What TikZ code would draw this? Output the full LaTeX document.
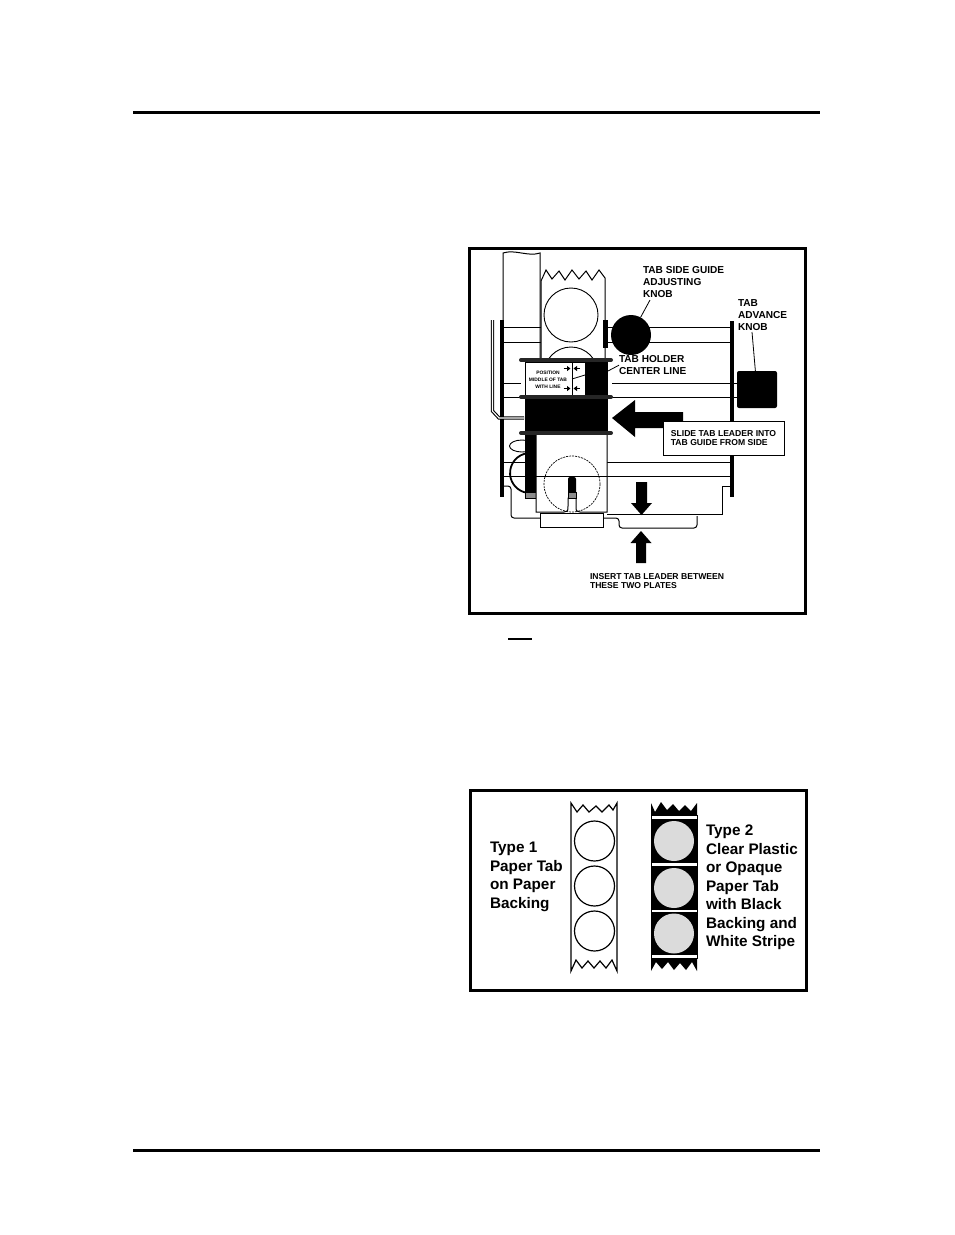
\documentclass[tikz,border=0pt]{standalone}
\usepackage{fontspec}
\setmainfont{Liberation Sans}
\usetikzlibrary{arrows.meta}
\tikzset{inner sep=0pt, outer sep=0pt,
  boxframe/.style={line width=3pt},
  rail/.style={line width=1pt},
  flange/.style={line width=4pt, line cap=round, black!85},
  leader/.style={line width=0.8pt},
  calltext/.style={font=\bfseries\fontsize{10.1}{12.2}\selectfont, align=left, anchor=north west},
  smalltext/.style={font=\bfseries\fontsize{8.6}{9.8}\selectfont, align=left},
  typetext/.style={font=\bfseries\fontsize{15.3}{18.5}\selectfont, align=left, anchor=north west},
  tinyarrow/.style={line width=1.6pt, -{Triangle[length=3.5pt,width=5pt]}},
}

\begin{document}
\begin{tikzpicture}[x=1pt,y=-1pt]
\useasboundingbox (0,0) rectangle (954,1235);
% page rules
\fill (133,111) rectangle (820,114);
\fill (133,1149) rectangle (820,1152);
\fill (508,638.3) rectangle (532,640);

% ---- upper figure ----
\draw[boxframe] (469.5,248.5) rectangle (805.5,613);
% left paper strip
\draw[fill=white, line width=1pt] (503,362) -- (503,253) .. controls (515,249) and (528,257) .. (540,253) -- (540,362);
% rails
\foreach \ry in {327,342} {
  \draw[rail] (504,\ry) -- (541,\ry);
  \draw[rail] (605,\ry) -- (730,\ry);
} % end of \foreach \ry
\foreach \ry in {383,397} {
  \draw[rail] (504,\ry) -- (521,\ry);
  \draw[rail] (612,\ry) -- (737,\ry);
} % end of \foreach \ry
\foreach \ry in {462,476} {
  \draw[rail] (504,\ry) -- (525,\ry);
  \draw[rail] (607,\ry) -- (730,\ry);
} % end of \foreach \ry
% tab column
\draw[fill=white, line width=1pt] (541,362) -- (541,281) -- (546,270) -- (552,279) -- (559,271) -- (565,280)
  -- (572,270) -- (579,279) -- (586,271) -- (592,280) -- (599,270) -- (605,278) -- (605,362);
\begin{scope}
  \clip (541,276) rectangle (605,360);
  \foreach \cy in {315,374} {
    \draw[line width=0.9pt] (571,\cy) circle (27);
  } % end of \foreach \cy
\end{scope}
\fill (603,320) rectangle (608,348);
\node[circle, fill, minimum size=40pt] (sideknob) at (631,335) {};
% side bars and rod
\fill (500,320) rectangle (504,497);
\fill (729.5,321) rectangle (734,497);
\draw[double, line width=1.1pt, double distance=1.1pt] (492.5,320) -- (492.5,411) -- (499,418) -- (524,418);
% tab holder
\fill (585,362) rectangle (608,397);
\draw[fill=white, line width=0.8pt] (525,362) rectangle (585,396);
\draw[line width=0.8pt] (572,362) -- (572,396);
\draw[line width=0.8pt] (572,379) -- (585,375);
\foreach \ay in {368.5,388.5} {
  \draw[tinyarrow] (563.5,\ay) -- (570.5,\ay);
  \draw[tinyarrow] (579.5,\ay) -- (573.5,\ay);
} % end of \foreach \ay
\node[font=\bfseries\fontsize{4.9}{6.8}\selectfont, align=center] (positiontext) at (548,379.5) {POSITION\\MIDDLE OF TAB\\WITH LINE};
\fill (525,397) rectangle (608,433);
% loops on the left
\draw[line width=0.9pt] (522,446) ellipse (12.5 and 6);
\draw[line width=1.8pt] (528.3,453.1) arc[start angle=265, end angle=100, radius=20];
% lower part of the holder
\fill (525,434) rectangle (536,492);
\draw[fill=black!45, line width=0.6pt] (525,492) rectangle (536,498);
\draw[fill=white, line width=1pt] (536,434) -- (536,512) -- (564,512) .. controls (568,511) .. (568,506) -- (568,498)
  -- (576,498) -- (576,506) .. controls (576,511) .. (580,512) -- (607,512) -- (607,434);
\draw[rail] (536,476) -- (607,476);
\draw[dashed, dash pattern=on 2pt off 1pt, line width=0.7pt] (572,484) circle (28);
\fill[rounded corners=2pt] (568,498) -- (568,477) -- (576,477) -- (576,498) -- cycle;
\draw[fill=black!45, line width=0.6pt] (568,492) rectangle (576,498);
\foreach \fy in {360,397,433} {
  \draw[flange] (521,\fy) -- (611,\fy);
} % end of \foreach \fy
% plates
\draw[rail] (730,486) -- (722,486) -- (722,514) -- (607,514);
\draw[rail, rounded corners=3pt] (504,486) -- (511,486) -- (511,518) -- (540,518);
\draw[fill=white, line width=1pt] (540,513) rectangle (603,527);
\draw[rail, rounded corners=3pt] (603,518) -- (619,518) -- (619,528) -- (697,528) -- (697,516);
% arrows
\fill (612,418) -- (635,400) -- (635,412) -- (683,412) -- (683,428) -- (635,428) -- (635,437) -- cycle;
\fill (636,482) -- (647,482) -- (647,503) -- (652,503) -- (641.5,515) -- (631,503) -- (636,503) -- cycle;
\fill (641,531) -- (651.5,543) -- (646,543) -- (646,563) -- (636,563) -- (636,543) -- (630.5,543) -- cycle;
\node[draw, fill=white, line width=1pt, minimum width=121pt, minimum height=34pt, anchor=north west, smalltext] (slidebox) at (663,421) {SLIDE TAB LEADER INTO\\TAB GUIDE FROM SIDE};
\node[fill, rounded corners=2pt, minimum width=40pt, minimum height=37pt] (advknob) at (757,389.5) {};
% labels
\node[calltext] (sidelabel) at (643,266.5) {TAB SIDE GUIDE\\ADJUSTING\\KNOB};
\node[calltext] (advlabel) at (738,299.5) {TAB\\ADVANCE\\KNOB};
\node[calltext] (holderlabel) at (619,355.5) {TAB HOLDER\\CENTER LINE};
\node[smalltext, anchor=north west] (insertlabel) at (590,573) {INSERT TAB LEADER BETWEEN\\THESE TWO PLATES};
\coordinate (sidetip) at (650,300);
\coordinate (advtip) at (752,332);
\coordinate (holderedge) at (608,371);
\draw[leader] (sideknob) -- (sidetip);
\draw[leader] (advknob) -- (advtip);
\draw[leader] (holderedge) -- (holderlabel.west);

% ---- lower figure ----
\draw[boxframe] (470,790.5) rectangle (806,990.5);
% type 1 strip
\draw[fill=white, line width=1.2pt] (571,971) -- (571,803) -- (577,812) -- (583,805) -- (589,812) -- (596,806) -- (602,812)
  -- (609,805) -- (613,810) -- (617,803) -- (617,971) -- (612,960) -- (606,968) -- (600,961) -- (594,968)
  -- (588,961) -- (582,968) -- (576,960) -- cycle;
\foreach \cy in {841,886,931} {
  \draw[line width=1.2pt] (594.5,\cy) circle (20);
} % end of \foreach \cy
% type 2 strip
\draw[line width=0.8pt] (651,815) rectangle (697,958);
\fill (651,815) -- (651,803) -- (655,812) -- (661,802) -- (667,810) -- (673,804) -- (679,811) -- (685,805)
  -- (691,811) -- (697,803) -- (697,815) -- cycle;
\fill (651,958) -- (697,958) -- (697,971) -- (692,962) -- (686,970) -- (680,963) -- (674,970) -- (668,962)
  -- (662,969) -- (656,962) -- (651,971) -- cycle;
\foreach \ty/\by in {819/863,866/910,912/955} {
  \fill (651,\ty) rectangle (697,\by);
  \fill[black!14] (674,{(\ty+\by)/2}) circle (20);
} % end of \foreach \ty
\node[typetext] (type1label) at (490,842) {Type 1\\Paper Tab\\on Paper\\Backing};
\node[typetext] (type2label) at (706,825) {Type 2\\Clear Plastic\\or Opaque\\Paper Tab\\with Black\\Backing and\\White Stripe};
\end{tikzpicture}
\end{document}
